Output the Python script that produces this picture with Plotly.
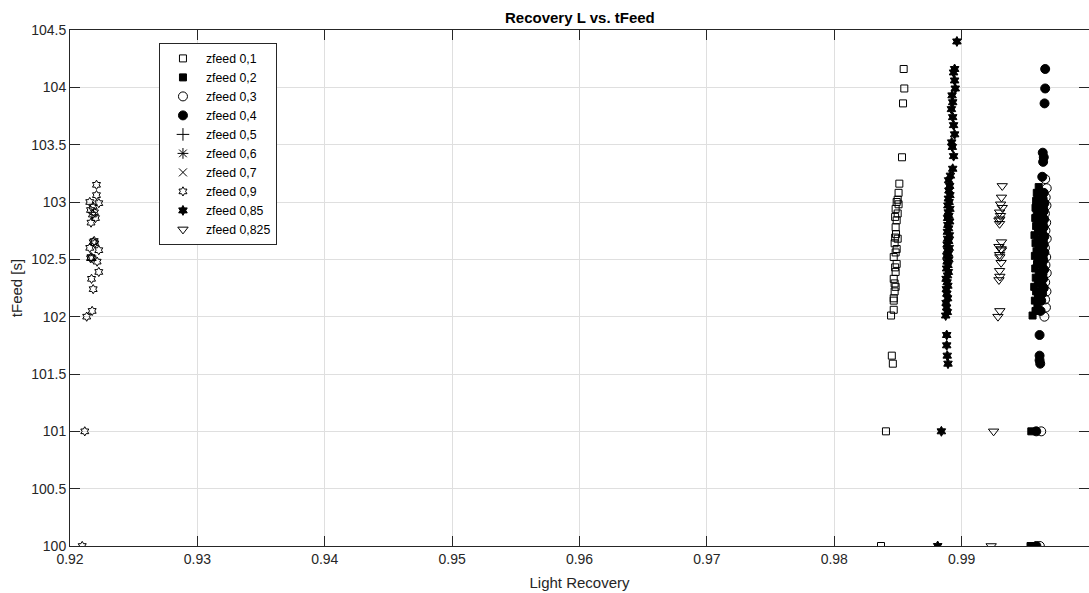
import plotly.graph_objects as go

# ---------------- data ----------------
names = ["zfeed 0,1", "zfeed 0,2", "zfeed 0,3", "zfeed 0,4", "zfeed 0,5",
         "zfeed 0,6", "zfeed 0,7", "zfeed 0,9", "zfeed 0,85", "zfeed 0,825"]

x_01 = [0.98367, 0.98406, 0.98460, 0.98452, 0.98446, 0.98467, 0.98467, 0.98467, 0.98474, 0.98482,
        0.98474, 0.98467, 0.98482, 0.98478, 0.98490, 0.98467, 0.98482, 0.98490, 0.98474, 0.98498,
        0.98478, 0.98485, 0.98482, 0.98490, 0.98478, 0.98498, 0.98482, 0.98505, 0.98490, 0.98498,
        0.98505, 0.98511, 0.98532, 0.98540, 0.98550, 0.98545]
y_01 = [100.00, 101.00, 101.59, 101.66, 102.01, 102.06, 102.14, 102.16, 102.22, 102.26,
        102.29, 102.33, 102.39, 102.43, 102.46, 102.52, 102.56, 102.59, 102.64, 102.68,
        102.69, 102.72, 102.78, 102.84, 102.87, 102.90, 102.94, 102.98, 103.00, 103.02,
        103.08, 103.16, 103.39, 103.86, 103.99, 104.16]

x_02 = [0.99541, 0.99547, 0.99557, 0.99580, 0.99595, 0.99575, 0.99600, 0.99585, 0.99570, 0.99598,
        0.99582, 0.99605, 0.99578, 0.99592, 0.99600, 0.99575, 0.99588, 0.99603, 0.99580, 0.99595,
        0.99572, 0.99600, 0.99585, 0.99598, 0.99578, 0.99605, 0.99590, 0.99580, 0.99600, 0.99585,
        0.99598, 0.99590, 0.99605]
y_02 = [100.00, 101.00, 102.01, 102.05, 102.10, 102.14, 102.18, 102.22, 102.26, 102.30,
        102.34, 102.38, 102.42, 102.46, 102.50, 102.53, 102.57, 102.60, 102.64, 102.68,
        102.71, 102.75, 102.79, 102.82, 102.86, 102.89, 102.92, 102.95, 102.98, 103.01,
        103.04, 103.08, 103.13]

x_03 = [0.99614, 0.99625, 0.99650, 0.99662, 0.99655, 0.99666, 0.99656, 0.99668, 0.99658, 0.99664,
        0.99654, 0.99668, 0.99658, 0.99664, 0.99654, 0.99666, 0.99660, 0.99668, 0.99656]
y_03 = [100.00, 101.00, 102.00, 102.08, 102.15, 102.22, 102.30, 102.38, 102.45, 102.52,
        102.60, 102.68, 102.75, 102.82, 102.90, 102.97, 103.04, 103.12, 103.20]

x_04 = [0.99587, 0.99586, 0.99617, 0.99612, 0.99612, 0.99612, 0.99620, 0.99625, 0.99632, 0.99645,
        0.99628, 0.99640, 0.99635, 0.99648, 0.99630, 0.99642, 0.99636, 0.99650, 0.99632, 0.99645,
        0.99638, 0.99650, 0.99630, 0.99644, 0.99636, 0.99648, 0.99632, 0.99645, 0.99640, 0.99650,
        0.99636, 0.99645, 0.99633, 0.99640, 0.99645, 0.99637, 0.99651, 0.99656, 0.99656]
y_04 = [100.00, 101.00, 101.59, 101.62, 101.66, 101.84, 102.05, 102.14, 102.20, 102.25,
        102.28, 102.33, 102.37, 102.41, 102.45, 102.49, 102.52, 102.56, 102.60, 102.63,
        102.67, 102.70, 102.74, 102.78, 102.81, 102.85, 102.88, 102.92, 102.95, 102.99,
        103.03, 103.08, 103.22, 103.35, 103.39, 103.43, 103.86, 103.99, 104.16]

# series listed in the legend but with no visible marks in the picture
x_05 = [None]
y_05 = [None]
x_06 = [None]
y_06 = [None]
x_07 = [None]
y_07 = [None]

x_09 = [0.92096, 0.92116, 0.92131, 0.92174, 0.92182, 0.92169, 0.92226, 0.92213, 0.92174, 0.92161,
        0.92165, 0.92226, 0.92155, 0.92195, 0.92182, 0.92190, 0.92165, 0.92200, 0.92176, 0.92192,
        0.92161, 0.92182, 0.92226, 0.92155, 0.92208, 0.92208]
y_09 = [100.00, 101.00, 102.00, 102.05, 102.24, 102.33, 102.39, 102.48, 102.51, 102.51,
        102.52, 102.58, 102.60, 102.64, 102.65, 102.66, 102.82, 102.86, 102.89, 102.91,
        102.93, 102.96, 102.99, 103.00, 103.06, 103.15]

x_085 = [0.98812, 0.98841, 0.98893, 0.98887, 0.98883, 0.98883, 0.98875, 0.98888, 0.98882, 0.98878,
         0.98890, 0.98884, 0.98880, 0.98892, 0.98886, 0.98878, 0.98890, 0.98896, 0.98882, 0.98893,
         0.98886, 0.98900, 0.98884, 0.98896, 0.98889, 0.98903, 0.98886, 0.98898, 0.98890, 0.98904,
         0.98888, 0.98898, 0.98892, 0.98906, 0.98890, 0.98900, 0.98895, 0.98908, 0.98892, 0.98902,
         0.98896, 0.98908, 0.98900, 0.98906, 0.98898, 0.98912, 0.98930, 0.98937, 0.98927, 0.98922,
         0.98945, 0.98937, 0.98930, 0.98920, 0.98930, 0.98925, 0.98950, 0.98945, 0.98937, 0.98945,
         0.98963]
y_085 = [100.00, 101.00, 101.59, 101.66, 101.75, 101.84, 102.01, 102.04, 102.08, 102.12,
         102.16, 102.20, 102.24, 102.27, 102.30, 102.33, 102.36, 102.39, 102.42, 102.45,
         102.48, 102.50, 102.53, 102.55, 102.58, 102.60, 102.63, 102.66, 102.68, 102.71,
         102.74, 102.77, 102.80, 102.83, 102.86, 102.88, 102.91, 102.94, 102.97, 103.00,
         103.03, 103.06, 103.10, 103.14, 103.19, 103.23, 103.29, 103.40, 103.48, 103.52,
         103.59, 103.67, 103.74, 103.81, 103.87, 103.93, 103.99, 104.06, 104.13, 104.16,
         104.40]

x_0825 = [0.99232, 0.99251, 0.99285, 0.99300, 0.99293, 0.99300, 0.99298, 0.99310, 0.99300, 0.99298,
          0.99313, 0.99310, 0.99293, 0.99313, 0.99298, 0.99293, 0.99300, 0.99305, 0.99298, 0.99319,
          0.99306, 0.99313, 0.99319]
y_0825 = [100.00, 101.00, 102.00, 102.05, 102.32, 102.35, 102.40, 102.47, 102.52, 102.54,
          102.58, 102.59, 102.61, 102.65, 102.81, 102.84, 102.85, 102.88, 102.91, 102.95,
          102.98, 103.04, 103.14]

x_ticks = [0.92, 0.93, 0.94, 0.95, 0.96, 0.97, 0.98, 0.99, 1.0]
x_labels = ["0.92", "0.93", "0.94", "0.95", "0.96", "0.97", "0.98", "0.99", "1"]
y_ticks = [100, 100.5, 101, 101.5, 102, 102.5, 103, 103.5, 104, 104.5]
y_labels = ["100", "100.5", "101", "101.5", "102", "102.5", "103", "103.5", "104", "104.5"]

# ---------------- styling ----------------
xs = [x_01, x_02, x_03, x_04, x_05, x_06, x_07, x_09, x_085, x_0825]
ys = [y_01, y_02, y_03, y_04, y_05, y_06, y_07, y_09, y_085, y_0825]
symbols = ["square-open", "square", "circle-open", "circle", "cross-thin-open",
           "asterisk-open", "x-thin-open", "hexagram-open", "hexagram", "triangle-down-open"]
sizes = [7, 7, 9, 9, 9, 9, 8, 7, 7.5, 9]

AX = "#262626"
GRID = "#dfdfdf"
FONT = "Liberation Sans, Arial, Helvetica, sans-serif"

fig = go.Figure()
for n, x, y, s, sz in zip(names, xs, ys, symbols, sizes):
    fig.add_trace(go.Scatter(
        x=x, y=y, mode="markers", name=n, showlegend=True,
        marker=dict(symbol=s, size=sz, color="black", line=dict(color="black", width=1)),
    ))

fig.update_layout(
    width=1089, height=593,
    margin=dict(l=70, r=0, t=30, b=47, autoexpand=False),
    paper_bgcolor="white", plot_bgcolor="white",
    font=dict(family=FONT, color=AX, size=14),
    title=dict(text="<b>Recovery L vs. tFeed</b>", x=0.5325, xanchor="center",
               y=1 - 17.5 / 593, yanchor="middle", yref="container",
               font=dict(size=15, color="black")),
    legend=dict(x=0.0873, y=0.975, xanchor="left", yanchor="top",
                bgcolor="white", bordercolor=AX, borderwidth=1, itemwidth=36,
                font=dict(size=12.3, color="black"), tracegroupgap=0),
    showlegend=True,
)
fig.update_xaxes(
    range=[0.92, 1.0], tickvals=x_ticks, ticktext=x_labels, automargin=False,
    showgrid=True, gridcolor=GRID, gridwidth=1, zeroline=False,
    showline=True, linecolor=AX, linewidth=1, mirror="ticks",
    ticks="inside", ticklen=10, tickcolor=AX, tickwidth=1,
    tickfont=dict(size=14, color=AX),
    title=dict(text="Light Recovery", font=dict(size=15, color=AX), standoff=11),
)
fig.update_yaxes(
    range=[100, 104.5], tickvals=y_ticks, ticktext=y_labels, automargin=False,
    showgrid=True, gridcolor=GRID, gridwidth=1, zeroline=False,
    showline=True, linecolor=AX, linewidth=1, mirror="ticks",
    ticks="inside", ticklen=10, tickcolor=AX, tickwidth=1,
    tickfont=dict(size=14, color=AX),
    title=dict(text="tFeed [s]", font=dict(size=15, color=AX), standoff=4),
)

fig.write_html("out.html", config={"displayModeBar": False},
               post_script="document.body.style.margin='0';document.body.style.overflow='hidden';")
